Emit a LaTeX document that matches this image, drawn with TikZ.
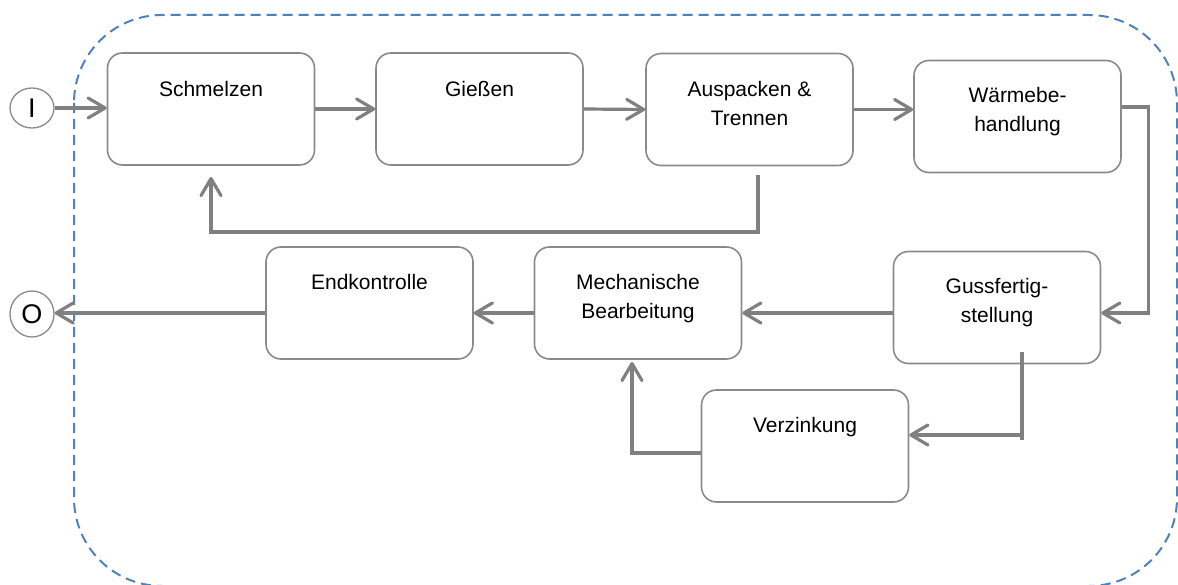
\documentclass[tikz,border=0pt]{standalone}
\usepackage{fontspec}
\setmainfont{Liberation Sans}
\usetikzlibrary{arrows.meta,calc,shapes.geometric}

\definecolor{flowgray}{RGB}{128,128,128}
\definecolor{boxgray}{RGB}{138,138,138}
\definecolor{frameblue}{RGB}{79,129,189}

\begin{document}
\begin{tikzpicture}[x=1pt,y=-1pt,
  stepbox/.style={draw=boxgray, line width=1.6pt, rounded corners=15pt,
    minimum width=207pt, minimum height=112pt, inner sep=0pt},
  lbl/.style={font=\fontsize{21}{29}\selectfont, align=center,
    anchor=base, inner sep=0pt},
  terminal/.style={draw=boxgray, line width=1.3pt, ellipse, inner sep=0pt,
    minimum width=44pt, font=\fontsize{27}{27}\selectfont},
  conn/.style={draw=flowgray, line width=3.2pt,
    -{Straight Barb[length=17pt,width=20pt,round]}},
  plainconn/.style={draw=flowgray, line width=3.2pt}
]
\useasboundingbox (0,0) rectangle (1178,585);
\clip (0,0) rectangle (1178,585);

% system boundary
\draw[frameblue, line width=2pt, dash pattern=on 10pt off 6pt,
  rounded corners=88pt] (74,15) rectangle (1177,586);

% process steps
\node[stepbox] (s1) at (211,109)    {};
\node[stepbox] (s2) at (479.5,109)  {};
\node[stepbox] (s3) at (749.5,109.5){};
\node[stepbox] (s4) at (1017.5,116.5){};
\node[stepbox] (e)  at (369.5,303)  {};
\node[stepbox] (m)  at (638,303)    {};
\node[stepbox] (g)  at (997,307.5)  {};
\node[stepbox] (v)  at (805,446)    {};

% labels: base anchor sits on the last line, so two-line labels go one line lower
\node[lbl] at ($(s1.north)+(0,44)$) {Schmelzen};
\node[lbl] at ($(s2.north)+(0,44)$) {Gießen};
\node[lbl] at ($(s3.north)+(0,73)$) {Auspacken \&\\Trennen};
\node[lbl] at ($(s4.north)+(0,72)$) {Wärmebe-\\handlung};
\node[lbl] at ($(e.north)+(0,43)$)  {Endkontrolle};
\node[lbl] at ($(m.north)+(0,72)$)  {Mechanische\\Bearbeitung};
\node[lbl] at ($(g.north)+(0,72)$)  {Gussfertig-\\stellung};
\node[lbl] at ($(v.north)+(0,43)$)  {Verzinkung};

% input and output
\node[terminal, minimum height=40pt] (in)  at (32,108) {I};
\node[terminal, minimum height=46pt] (out) at (32,314) {O};

% upper row
\draw[conn] (in.east) -- (in.east -| s1.west);
\draw[conn] (s1.east) -- (s2.west);
\draw[conn] (s2.east) -- (s3.west);
\draw[conn] (s3.east) -- (s3.east -| s4.west);

% return from Auspacken to Schmelzen
\coordinate (fbA) at (758,175);
\coordinate (fbB) at (211,177);
\draw[conn] (fbA) -- ++(0,57) -| (fbB);

% down to the lower row
\draw[conn] ($(s4.east)+(0,-9.5)$) -- ++(27,0) |- ($(g.east)+(0,5.5)$);

% lower row
\coordinate (row) at ($(g.west)+(0,5.5)$);
\draw[conn] (row) -- (row -| m.east);
\draw[conn] (row -| m.west) -- (row -| e.east);
\draw[conn] (row -| e.west) -- (row -| out.east);

% branch through Verzinkung
\coordinate (gvTop)  at (1022,352);
\coordinate (gvEnd)  at (1022,440);
\coordinate (gvJoin) at (1022,435);
\draw[plainconn] (gvTop) -- (gvEnd);
\draw[conn] (gvJoin) -- (gvJoin -| v.east);
\coordinate (vmTip) at (632,362);
\draw[conn] ($(v.west)+(0,7)$) -| (vmTip);
\end{tikzpicture}
\end{document}
